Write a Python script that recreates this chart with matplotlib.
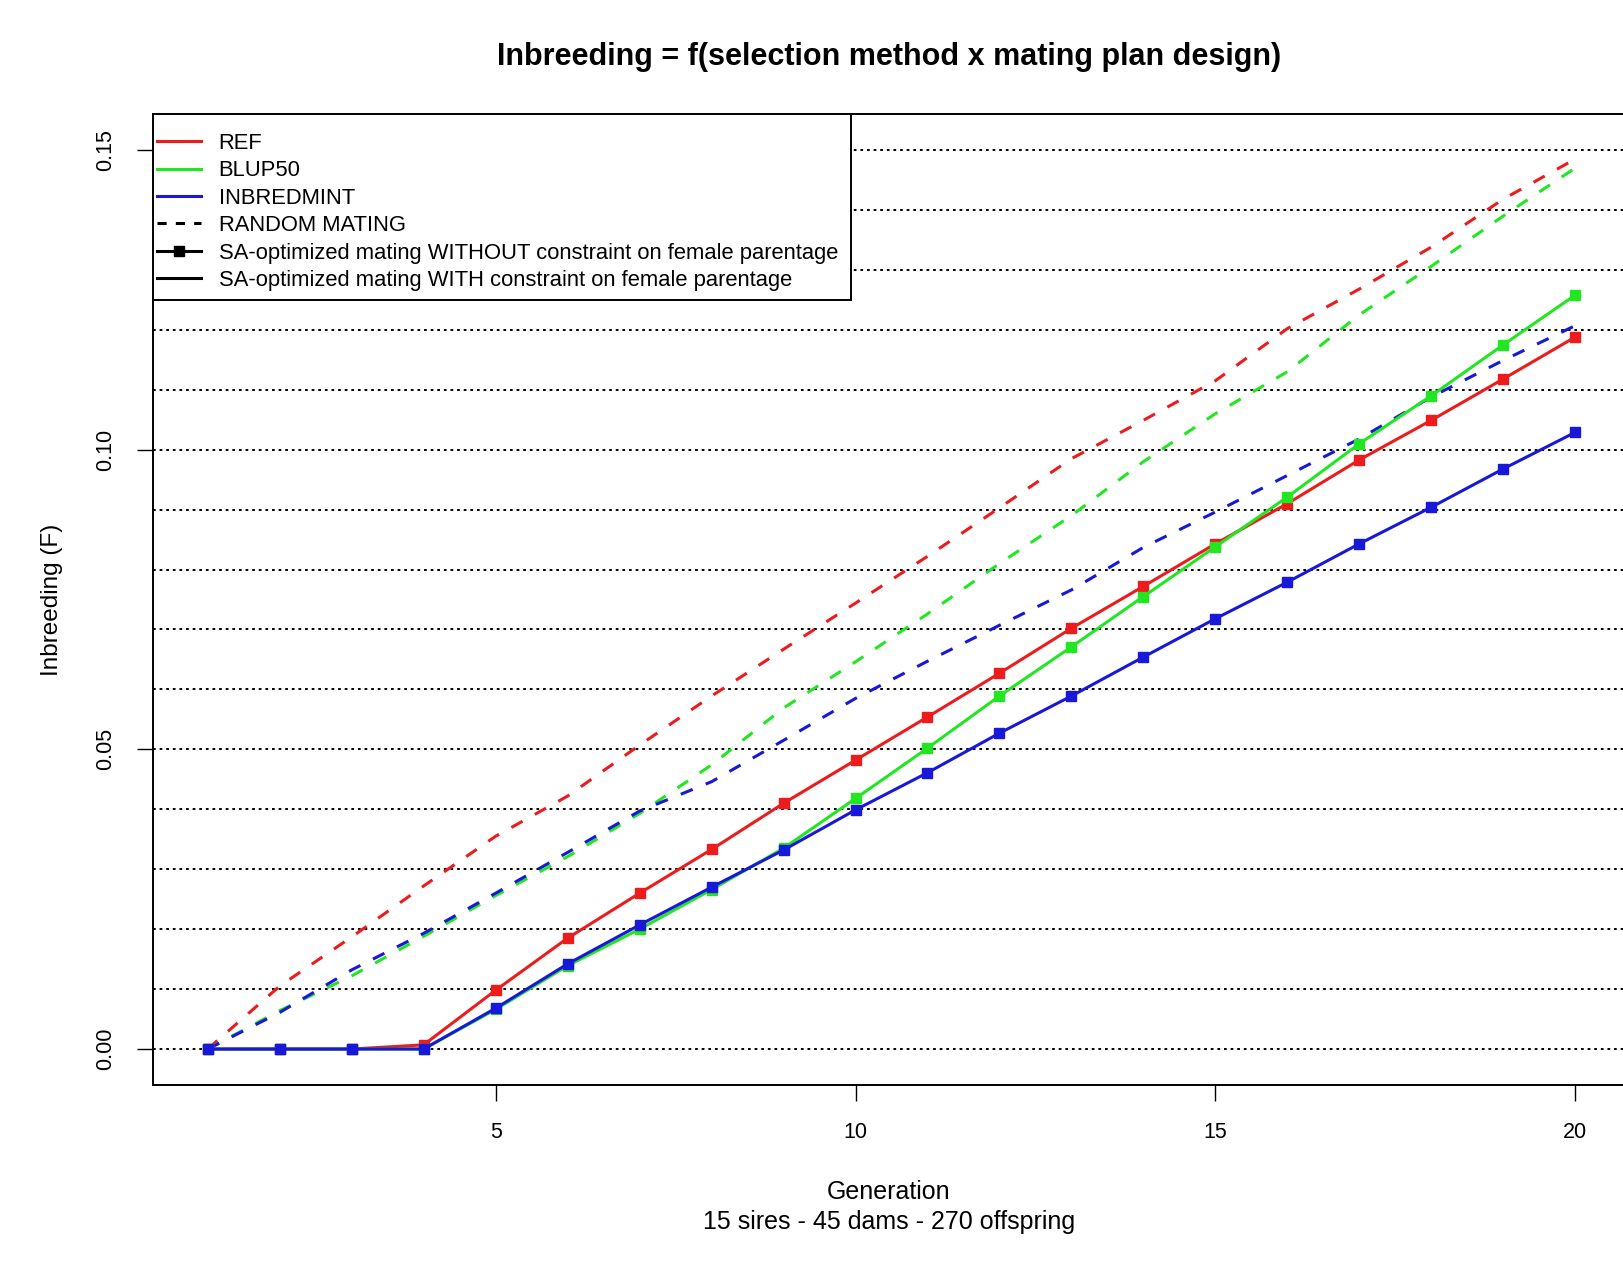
import matplotlib
matplotlib.use("Agg")
import matplotlib.pyplot as plt
from matplotlib.lines import Line2D
from matplotlib.patches import Rectangle

plt.rcParams['font.family'] = ['Liberation Sans', 'DejaVu Sans']

generation = list(range(1, 21))

ref_sa = [0, 0, 0, 0.0007, 0.0098, 0.0185, 0.026, 0.0333, 0.041, 0.0482,
          0.0554, 0.0627, 0.0702, 0.0772, 0.0843, 0.091, 0.0983, 0.1049, 0.1118, 0.1188]
blup_sa = [0, 0, 0, 0, 0.0066, 0.0139, 0.0200, 0.0266, 0.0335, 0.0418,
           0.0502, 0.0589, 0.0671, 0.0755, 0.0838, 0.0921, 0.101, 0.109, 0.1175, 0.1258]
inbred_sa = [0, 0, 0, 0, 0.0068, 0.0142, 0.0207, 0.027, 0.0332, 0.0399,
             0.0461, 0.0527, 0.0589, 0.0654, 0.0718, 0.0779, 0.0843, 0.0904, 0.0968, 0.1029]
ref_rm = [0, 0.0105, 0.0187, 0.0272, 0.0355, 0.0422, 0.0507, 0.0589, 0.0667, 0.0744,
          0.0822, 0.0903, 0.0985, 0.1049, 0.1115, 0.1202, 0.1268, 0.1338, 0.1418, 0.1485]
blup_rm = [0, 0.0064, 0.0122, 0.0188, 0.0256, 0.0321, 0.0393, 0.0474, 0.0569, 0.0646,
           0.0726, 0.081, 0.089, 0.098, 0.106, 0.113, 0.1225, 0.1306, 0.139, 0.147]
inbred_rm = [0, 0.0061, 0.0132, 0.0193, 0.026, 0.0328, 0.0397, 0.0446, 0.0515, 0.0585,
             0.0647, 0.0707, 0.0766, 0.0837, 0.0896, 0.0957, 0.1018, 0.1088, 0.1149, 0.1207]

grid_levels = [i / 100 for i in range(0, 16)]
x_ticks = [5, 10, 15, 20]
y_ticks = [0.00, 0.05, 0.10, 0.15]
y_ticklabels = ["0.00", "0.05", "0.10", "0.15"]

legend_labels = ["REF", "BLUP50", "INBREDMINT", "RANDOM MATING",
                 "SA-optimized mating WITHOUT constraint on female parentage",
                 "SA-optimized mating WITH constraint on female parentage"]

RED, GREEN, BLUE = '#ec1c1c', '#22e622', '#1818d8'

W, H = 1624, 1261
fig = plt.figure(figsize=(W / 100, H / 100), dpi=100)
ax_l, ax_r, ax_t, ax_b = 153, 1630, 114, 1085
ax = fig.add_axes([ax_l / W, 1 - ax_b / H, (ax_r - ax_l) / W, (ax_b - ax_t) / H])
ax.set_xlim(0.24, 20.76)
ax.set_ylim(-0.006, 0.156)

for lv in grid_levels:
    ax.axhline(lv, color='black', lw=1.4, dashes=(1.4, 2.0), zorder=1)

lw = 2.2
dash = (4.2, 4.6)
ax.plot(generation, ref_rm, color=RED, lw=lw, dashes=dash, zorder=2)
ax.plot(generation, blup_rm, color=GREEN, lw=lw, dashes=dash, zorder=2)
ax.plot(generation, inbred_rm, color=BLUE, lw=lw, dashes=dash, zorder=2)

ax.plot(generation, ref_sa, color=RED, lw=lw, marker='s', ms=6.8, zorder=3)
ax.plot(generation, blup_sa, color=GREEN, lw=lw, marker='s', ms=6.8, zorder=3)
ax.plot(generation, inbred_sa, color=BLUE, lw=lw, marker='s', ms=6.8, zorder=3)

ax.set_xticks(x_ticks)
ax.set_xticklabels([str(t) for t in x_ticks])
ax.set_yticks(y_ticks)
ax.set_yticklabels(y_ticklabels, rotation=90, va='center')
ax.tick_params(axis='both', length=11.5, width=1.0, labelsize=15.5, color='black')
ax.tick_params(axis='x', pad=14.8)
ax.tick_params(axis='y', pad=14.7)
for s in ['left', 'bottom', 'top', 'right']:
    ax.spines[s].set_linewidth(1.4)

# legend box (frame) and entries
leg_r, leg_b = 851, 300
frame = Rectangle((0, 1 - (leg_b - ax_t) / (ax_b - ax_t)), (leg_r - ax_l) / (ax_r - ax_l),
                  (leg_b - ax_t) / (ax_b - ax_t), transform=ax.transAxes,
                  facecolor='white', edgecolor='black', lw=1.4, zorder=4.9)
ax.add_patch(frame)

handles = [
    Line2D([], [], color=RED, lw=lw),
    Line2D([], [], color=GREEN, lw=lw),
    Line2D([], [], color=BLUE, lw=lw),
    Line2D([], [], color='black', lw=lw, dashes=(3.0, 3.0)),
    Line2D([], [], color='black', lw=lw, marker='s', ms=6.8),
    Line2D([], [], color='black', lw=lw),
]
leg = ax.legend(handles, legend_labels, loc='upper left',
                bbox_to_anchor=(157 / W, 1 - 133 / H), bbox_transform=fig.transFigure,
                borderaxespad=0, frameon=False, fontsize=15.85, handlelength=2.0,
                handletextpad=0.8, labelspacing=0.29, borderpad=0)
leg.set_zorder(5)

fig.text(889 / W, 1 - 57 / H, "Inbreeding = f(selection method x mating plan design)",
         ha='center', va='center', fontsize=22, fontweight='bold')
fig.text(889 / W, 1 - 1192 / H, "Generation", ha='center', va='center', fontsize=18)
fig.text(889 / W, 1 - 1222 / H, "15 sires - 45 dams - 270 offspring",
         ha='center', va='center', fontsize=18)
fig.text(52 / W, 1 - 600 / H, "Inbreeding (F)", ha='center', va='center',
         rotation=90, fontsize=17.5)

fig.savefig("out.png", dpi=100)
